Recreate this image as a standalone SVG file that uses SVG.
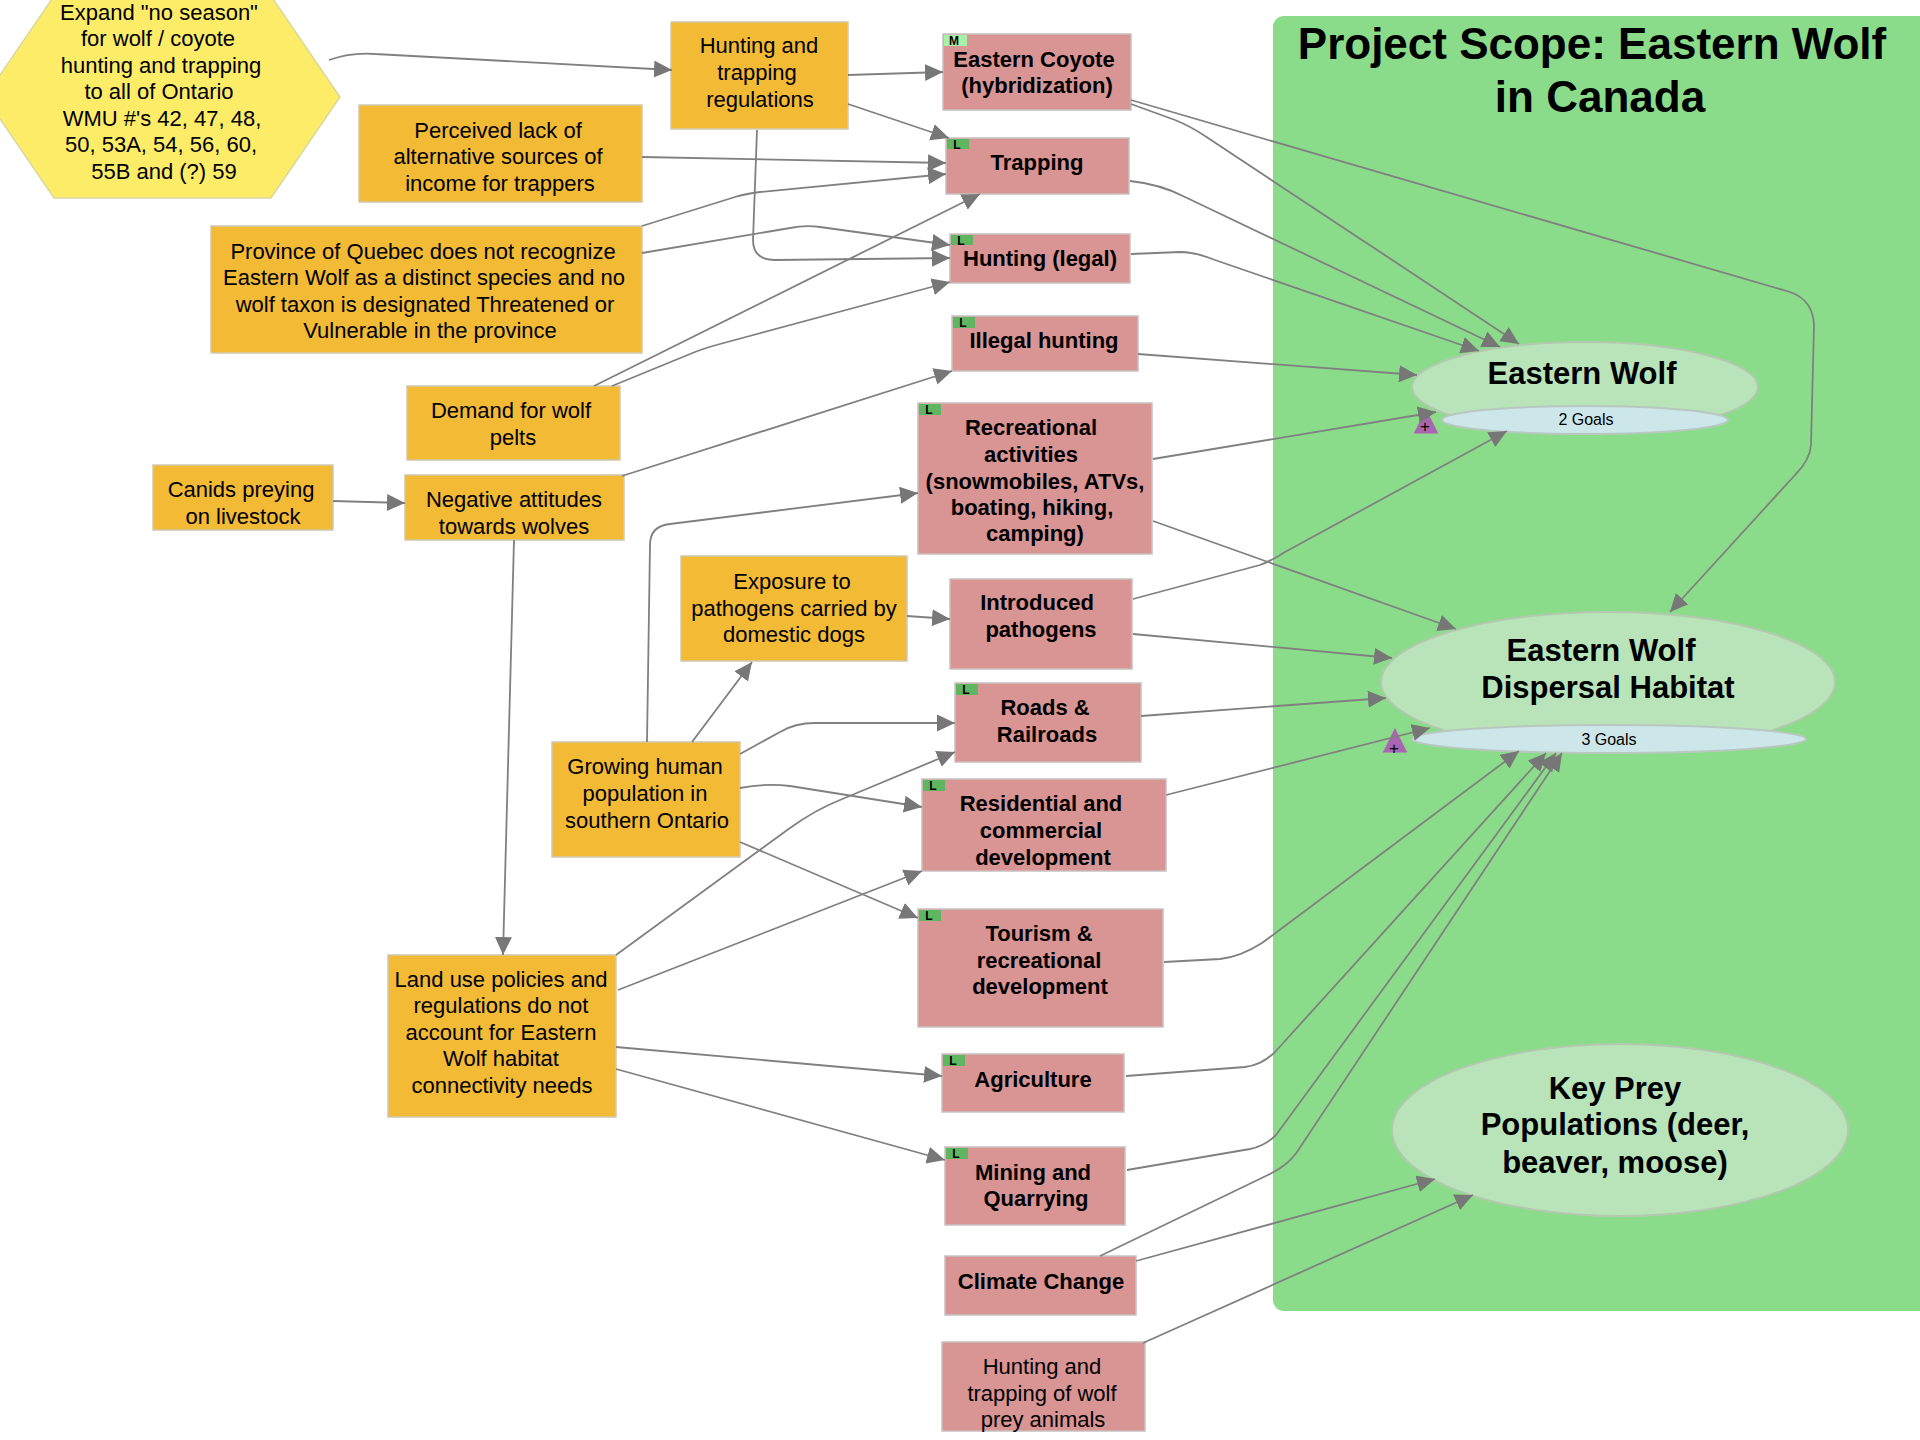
<svg xmlns="http://www.w3.org/2000/svg" width="1920" height="1440" viewBox="0 0 1920 1440">
<style>
text{font-family:"Liberation Sans",Arial,sans-serif;fill:#000;text-anchor:middle}
.f{font-size:22px}.b{font-size:22px;font-weight:bold}
.o{fill:#f2ba35;stroke:#cfc8b0;stroke-width:1.5}
.r{fill:#d99494;stroke:#c8c0c0;stroke-width:1.5}
.t{fill:#b9e4b9;stroke:#b4c8b0;stroke-width:2}
.g{fill:#cce6ea;stroke:#b8c8c0;stroke-width:2}
.h{font-size:31px;font-weight:bold}
.s{font-size:16px}
.L{fill:#5fb560}.M{fill:#a8f0a8}
.k{font-size:12px;font-weight:bold}
.tri{fill:#a866b0;stroke:#9ccf90;stroke-width:1}
#connectors path{fill:none;stroke:#808080;stroke-width:1.8;marker-end:url(#a)}
</style>
<defs><marker id="a" markerUnits="userSpaceOnUse" markerWidth="19" markerHeight="18" refX="18" refY="8.5" orient="auto"><path d="M0 0L18 8.5L0 17z" fill="#777"/></marker></defs>
<rect width="1920" height="1440" fill="#fff"/>
<g id="scope"><rect x="1273" y="16" width="660" height="1295" rx="11" fill="#8adc8a"/>
<text x="1592" y="59" style="font-size:44px;font-weight:bold">Project Scope: Eastern Wolf</text><text x="1600" y="112" style="font-size:44px;font-weight:bold">in Canada</text></g>
<g id="n-wolf"><ellipse class="t" cx="1585" cy="387" rx="173" ry="45"/><text class="h" x="1582" y="384">Eastern Wolf</text></g>
<g id="n-wolf-goals"><ellipse class="g" cx="1585" cy="420" rx="143" ry="14"/><text class="s" x="1586" y="425">2 Goals</text></g>
<g id="n-disp"><ellipse class="t" cx="1608" cy="682" rx="227" ry="70"/><text class="h" x="1601" y="661">Eastern Wolf</text><text class="h" x="1608" y="698">Dispersal Habitat</text></g>
<g id="n-disp-goals"><ellipse class="g" cx="1609" cy="739" rx="197" ry="14"/><text class="s" x="1609" y="745">3 Goals</text></g>
<g id="n-prey"><ellipse class="t" cx="1620" cy="1130" rx="228" ry="86"/><text class="h" x="1615" y="1099">Key Prey</text><text class="h" x="1615" y="1135">Populations (deer,</text><text class="h" x="1615" y="1173">beaver, moose)</text></g>
<g id="tri1"><path class="tri" d="M1426 408L1439 434H1413z"/><text x="1425" y="432" style="font-size:17px">+</text></g>
<g id="tri2"><path class="tri" d="M1395 727L1408 753H1382z"/><text x="1394" y="754" style="font-size:17px">+</text></g>

<g id="n-hex"><path d="M54 -4H271L340 97L271 198H54L-15 97z" fill="#fdec68" stroke="#d8d8a0" stroke-width="1.5"/><text class="f"><tspan x="159" y="20">Expand "no season"</tspan><tspan x="158" y="46">for wolf / coyote</tspan><tspan x="161" y="73">hunting and trapping</tspan><tspan x="159" y="99">to all of Ontario</tspan><tspan x="162" y="126">WMU #'s 42, 47, 48,</tspan><tspan x="161" y="152">50, 53A, 54, 56, 60,</tspan><tspan x="164" y="179">55B and (?) 59</tspan></text></g>
<g id="n-regs"><rect class="o" x="671" y="22" width="177" height="107"/><text class="f"><tspan x="759" y="53">Hunting and</tspan><tspan x="757" y="80">trapping</tspan><tspan x="760" y="107">regulations</tspan></text></g>
<g id="n-perc"><rect class="o" x="359" y="105" width="283" height="97"/><text class="f"><tspan x="498" y="138">Perceived lack of</tspan><tspan x="498" y="164">alternative sources of</tspan><tspan x="500" y="191">income for trappers</tspan></text></g>
<g id="n-queb"><rect class="o" x="211" y="226" width="431" height="127"/><text class="f"><tspan x="423" y="259">Province of Quebec does not recognize</tspan><tspan x="424" y="285">Eastern Wolf as a distinct species and no</tspan><tspan x="425" y="312">wolf taxon is designated Threatened or</tspan><tspan x="430" y="338">Vulnerable in the province</tspan></text></g>
<g id="n-dem"><rect class="o" x="407" y="386" width="213" height="74"/><text class="f"><tspan x="511" y="418">Demand for wolf</tspan><tspan x="513" y="445">pelts</tspan></text></g>
<g id="n-can"><rect class="o" x="153" y="465" width="180" height="65"/><text class="f"><tspan x="241" y="497">Canids preying</tspan><tspan x="243" y="524">on livestock</tspan></text></g>
<g id="n-neg"><rect class="o" x="405" y="475" width="219" height="65"/><text class="f"><tspan x="514" y="507">Negative attitudes</tspan><tspan x="514" y="534">towards wolves</tspan></text></g>
<g id="n-exp"><rect class="o" x="681" y="556" width="226" height="105"/><text class="f"><tspan x="792" y="589">Exposure to</tspan><tspan x="794" y="616">pathogens carried by</tspan><tspan x="794" y="642">domestic dogs</tspan></text></g>
<g id="n-grow"><rect class="o" x="552" y="742" width="188" height="115"/><text class="f"><tspan x="645" y="774">Growing human</tspan><tspan x="645" y="801">population in</tspan><tspan x="647" y="828">southern Ontario</tspan></text></g>
<g id="n-land"><rect class="o" x="388" y="955" width="228" height="162"/><text class="f"><tspan x="501" y="987">Land use policies and</tspan><tspan x="501" y="1013">regulations do not</tspan><tspan x="501" y="1040">account for Eastern</tspan><tspan x="501" y="1066">Wolf habitat</tspan><tspan x="502" y="1093">connectivity needs</tspan></text></g>
<g id="n-coy"><rect class="r" x="943" y="34" width="188" height="76"/><rect class="M" x="944" y="35" width="23" height="11"/><text class="k" x="954" y="45">M</text><text class="b"><tspan x="1034" y="67">Eastern Coyote</tspan><tspan x="1037" y="93">(hybridization)</tspan></text></g>
<g id="n-trap"><rect class="r" x="946" y="138" width="183" height="56"/><rect class="L" x="947" y="139" width="22" height="10"/><text class="k" x="957" y="149">L</text><text class="b" x="1037" y="170">Trapping</text></g>
<g id="n-hunt"><rect class="r" x="950" y="234" width="180" height="49"/><rect class="L" x="951" y="235" width="22" height="10"/><text class="k" x="961" y="245">L</text><text class="b" x="1040" y="266">Hunting (legal)</text></g>
<g id="n-ill"><rect class="r" x="952" y="316" width="186" height="55"/><rect class="L" x="953" y="317" width="22" height="11"/><text class="k" x="963" y="327">L</text><text class="b" x="1044" y="348">Illegal hunting</text></g>
<g id="n-rec"><rect class="r" x="918" y="403" width="234" height="151"/><rect class="L" x="919" y="404" width="22" height="11"/><text class="k" x="929" y="414">L</text><text class="b"><tspan x="1031" y="435">Recreational</tspan><tspan x="1031" y="462">activities</tspan><tspan x="1035" y="489">(snowmobiles, ATVs,</tspan><tspan x="1032" y="515">boating, hiking,</tspan><tspan x="1035" y="541">camping)</tspan></text></g>
<g id="n-int"><rect class="r" x="950" y="579" width="182" height="90"/><text class="b"><tspan x="1037" y="610">Introduced</tspan><tspan x="1041" y="637">pathogens</tspan></text></g>
<g id="n-road"><rect class="r" x="955" y="683" width="186" height="79"/><rect class="L" x="956" y="684" width="22" height="11"/><text class="k" x="966" y="694">L</text><text class="b"><tspan x="1045" y="715">Roads &amp;</tspan><tspan x="1047" y="742">Railroads</tspan></text></g>
<g id="n-res"><rect class="r" x="922" y="779" width="244" height="92"/><rect class="L" x="923" y="780" width="22" height="11"/><text class="k" x="933" y="790">L</text><text class="b"><tspan x="1041" y="811">Residential and</tspan><tspan x="1041" y="838">commercial</tspan><tspan x="1043" y="865">development</tspan></text></g>
<g id="n-tour"><rect class="r" x="918" y="909" width="245" height="118"/><rect class="L" x="919" y="910" width="22" height="11"/><text class="k" x="929" y="920">L</text><text class="b"><tspan x="1039" y="941">Tourism &amp;</tspan><tspan x="1039" y="968">recreational</tspan><tspan x="1040" y="994">development</tspan></text></g>
<g id="n-agr"><rect class="r" x="942" y="1054" width="182" height="58"/><rect class="L" x="943" y="1055" width="22" height="11"/><text class="k" x="953" y="1065">L</text><text class="b" x="1033" y="1087">Agriculture</text></g>
<g id="n-min"><rect class="r" x="945" y="1147" width="180" height="78"/><rect class="L" x="946" y="1148" width="22" height="11"/><text class="k" x="956" y="1158">L</text><text class="b"><tspan x="1033" y="1180">Mining and</tspan><tspan x="1036" y="1206">Quarrying</tspan></text></g>
<g id="n-clim"><rect class="r" x="945" y="1256" width="191" height="59"/><text class="b" x="1041" y="1289">Climate Change</text></g>
<g id="n-prey2"><rect class="r" x="942" y="1342" width="203" height="89"/><text class="f"><tspan x="1042" y="1374">Hunting and</tspan><tspan x="1042" y="1401">trapping of wolf</tspan><tspan x="1043" y="1427">prey animals</tspan></text></g>

<g id="connectors">
<path d="M329 60Q352 52 375 54L672 70"/>
<path d="M848 75L943 72"/>
<path d="M848 104L949 138"/>
<path d="M757 130L753 240Q753 260 775 260L950 258"/>
<path d="M642 157L946 163"/>
<path d="M642 226L735 197Q745 194 760 192L946 174"/>
<path d="M642 253L790 228Q805 225 820 227L950 245"/>
<path d="M594 386L980 194"/>
<path d="M612 386L695 352Q705 348 720 344L950 282"/>
<path d="M622 476L952 371"/>
<path d="M333 501L405 503"/>
<path d="M514 540L503 955"/>
<path d="M647 742L650 545Q650 526 670 524L918 493"/>
<path d="M692 742L752 662"/>
<path d="M907 616L950 619"/>
<path d="M740 754L780 732Q795 723 815 723L955 723"/>
<path d="M740 788Q765 783 790 786L922 807"/>
<path d="M740 842L918 918"/>
<path d="M616 955L790 828Q815 810 840 800L955 752"/>
<path d="M618 990L922 871"/>
<path d="M616 1047L942 1076"/>
<path d="M616 1069L945 1160"/>
<path d="M1131 104L1175 120Q1190 126 1205 136L1519 344"/>
<path d="M1130 181Q1160 184 1185 197L1500 347"/>
<path d="M1131 254L1180 252Q1195 252 1215 260L1479 351"/>
<path d="M1131 100L1790 292Q1813 300 1814 325L1811 445Q1810 460 1795 475L1670 612"/>
<path d="M1138 354L1417 375"/>
<path d="M1153 459L1436 412"/>
<path d="M1153 521L1456 629"/>
<path d="M1133 599L1260 565Q1273 560 1285 552L1507 431"/>
<path d="M1133 634L1392 658"/>
<path d="M1141 716L1386 698"/>
<path d="M1166 795L1430 728"/>
<path d="M1164 962L1220 959Q1240 957 1262 943L1519 751"/>
<path d="M1126 1076L1245 1067Q1262 1065 1275 1052L1546 753"/>
<path d="M1127 1170L1250 1149Q1265 1146 1276 1135L1556 753"/>
<path d="M1100 1256L1270 1174Q1288 1165 1297 1152L1562 753"/>
<path d="M1136 1261L1435 1179"/>
<path d="M1143 1343L1473 1195"/>
</g>
</svg>
